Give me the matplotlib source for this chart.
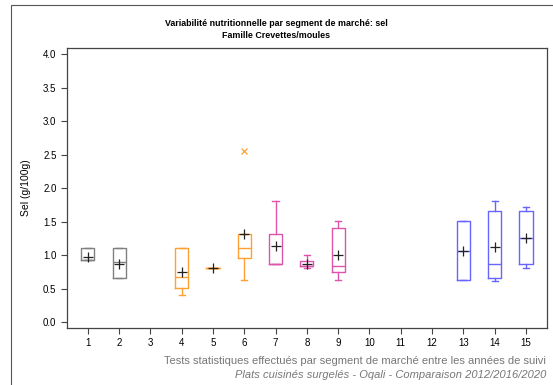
import matplotlib
matplotlib.use("Agg")
import matplotlib.pyplot as plt
from matplotlib.patches import Rectangle

plt.rcParams['font.family'] = ['Liberation Sans', 'DejaVu Sans']

# segments de marché et statistiques des boîtes (sel, g/100g)
segments = [1, 2, 4, 5, 6, 7, 8, 9, 13, 14, 15]
whislo = [0.92, 0.66, 0.41, 0.80, 0.63, 0.87, 0.80, 0.63, 0.62, 0.61, 0.81]
q1 = [0.92, 0.66, 0.51, 0.80, 0.95, 0.87, 0.83, 0.75, 0.62, 0.66, 0.86]
med = [0.92, 0.89, 0.67, 0.80, 1.11, 0.87, 0.83, 0.83, 1.06, 0.86, 1.26]
q3 = [1.10, 1.10, 1.10, 0.80, 1.31, 1.31, 0.91, 1.41, 1.51, 1.66, 1.66]
whishi = [1.10, 1.10, 1.10, 0.80, 1.31, 1.81, 1.00, 1.51, 1.51, 1.80, 1.71]
means = [0.97, 0.87, 0.74, 0.80, 1.32, 1.14, 0.87, 1.00, 1.06, 1.12, 1.26]
fliers = [[], [], [], [], [2.56], [], [], [], [], [], []]
colors = ['#808080', '#808080', '#FFA030', '#FFA030', '#FFA030',
          '#DD55AA', '#DD55AA', '#DD55AA', '#6666FF', '#6666FF', '#6666FF']

xticks = list(range(1, 16))

fig = plt.figure(figsize=(5.53, 3.85), dpi=100)
ax = fig.add_axes([0.121, 0.148, 0.868, 0.727])

# cadre extérieur
fig.patches.append(Rectangle((0.02, -0.01), 0.99, 0.997, transform=fig.transFigure,
                             fill=False, edgecolor='#555555', linewidth=0.8))

for i, s in enumerate(segments):
    stats = [{'whislo': whislo[i], 'q1': q1[i], 'med': med[i], 'q3': q3[i],
              'whishi': whishi[i], 'mean': means[i], 'fliers': fliers[i]}]
    c = colors[i]
    ax.bxp(stats, positions=[s], widths=0.42, showmeans=True, showfliers=True,
           boxprops=dict(color=c, linewidth=1.0),
           medianprops=dict(color=c, linewidth=1.0),
           whiskerprops=dict(color=c, linewidth=1.0),
           capprops=dict(color=c, linewidth=1.0),
           capwidths=0.2,
           meanprops=dict(marker='+', markeredgecolor='#222222', markersize=7.5,
                          markeredgewidth=0.9),
           flierprops=dict(marker='x', markeredgecolor=c, markersize=5,
                           markeredgewidth=0.9))

ax.set_xlim(0.33, 15.67)
ax.set_ylim(-0.09, 4.09)
ax.set_xticks(xticks)
ax.set_xticklabels([str(t) for t in xticks])
ax.set_yticks([0, 0.5, 1, 1.5, 2, 2.5, 3, 3.5, 4])
ax.set_yticklabels(['0.0', '0.5', '1.0', '1.5', '2.0', '2.5', '3.0', '3.5', '4.0'])
ax.tick_params(labelsize=7, length=4, width=0.8, color='#444444')
for sp in ax.spines.values():
    sp.set_color('#444444')
    sp.set_linewidth(0.9)
ax.set_ylabel('Sel (g/100g)', fontsize=7.5, labelpad=9)

fig.text(0.5, 0.940, 'Variabilité nutritionnelle par segment de marché: sel',
         ha='center', va='center', fontsize=6.4, fontweight='bold')
fig.text(0.5, 0.908, 'Famille Crevettes/moules',
         ha='center', va='center', fontsize=6.4, fontweight='bold')

fig.text(0.988, 0.062, 'Tests statistiques effectués par segment de marché entre les années de suivi',
         ha='right', va='center', fontsize=8.0, color='#777777')
fig.text(0.988, 0.026, 'Plats cuisinés surgelés - Oqali - Comparaison 2012/2016/2020',
         ha='right', va='center', fontsize=8.0, color='#777777', style='italic')

fig.savefig('out.png', dpi=100)
